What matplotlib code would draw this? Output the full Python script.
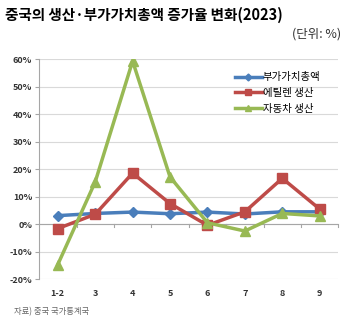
import matplotlib.pyplot as plt
from matplotlib.ticker import FuncFormatter

plt.rcParams['font.family'] = ['Noto Sans CJK KR', 'DejaVu Sans']

months = ['1-2', '3', '4', '5', '6', '7', '8', '9']
value_added = [3.1, 3.9, 4.4, 3.8, 4.4, 3.7, 4.5, 4.5]
ethylene = [-1.6, 3.6, 18.6, 7.5, -0.4, 4.5, 16.7, 5.5]
cars = [-14.7, 15.4, 59.4, 17.2, 0.5, -2.5, 3.9, 3.0]

fig = plt.figure(figsize=(3.46, 3.23), dpi=100)
ax = fig.add_axes([0.113, 0.136, 0.865, 0.68])

x = range(len(months))
ax.plot(x, value_added, color='#4a7ebb', lw=2.5, marker='D', ms=5, label='부가가치총액')
ax.plot(x, ethylene, color='#be4b48', lw=2.5, marker='s', ms=6.5, label='에틸렌 생산')
ax.plot(x, cars, color='#98b954', lw=2.5, marker='^', ms=6.5, label='자동차 생산')

ax.set_xlim(-0.5, len(months) - 0.5)
ax.set_ylim(-20, 60)
ax.set_yticks(range(-20, 61, 10))
ax.yaxis.set_major_formatter(FuncFormatter(lambda v, p: f'{v:.0f}%'))
ax.set_xticks(list(x))
ax.set_xticklabels(months)
ax.grid(axis='y', color='#d9d9d9', lw=0.8)
ax.set_axisbelow(True)

for s in ['top', 'right', 'bottom']:
    ax.spines[s].set_visible(False)
ax.spines['left'].set_color('#a6a6a6')
ax.axhline(0, color='#a6a6a6', lw=0.8, zorder=1)
for b in [i + 0.5 for i in range(len(months))]:
    ax.plot([b, b], [0, -0.9], color='#a6a6a6', lw=0.8, zorder=1, clip_on=False)

ax.tick_params(axis='y', labelsize=6.5, length=3, color='#a6a6a6', pad=2)
ax.tick_params(axis='x', labelsize=6.5, length=0, pad=7)
for t in ax.get_xticklabels() + ax.get_yticklabels():
    t.set_fontweight('bold')
    t.set_color('#333333')

ax.legend(loc='upper right', bbox_to_anchor=(0.965, 0.975), fontsize=7.5, frameon=False,
          handlelength=2.6, handletextpad=0.1, labelspacing=0.55, borderaxespad=0.3,
          markerscale=0.7)

fig.text(0.015, 0.955, '중국의 생산·부가가치총액 증가율 변화(2023)', fontsize=10.5,
         fontweight='bold', va='center')
fig.text(0.985, 0.895, '(단위: %)', fontsize=9, ha='right', va='center', color='#333333')
fig.text(0.04, 0.035, '자료) 중국 국가통계국', fontsize=6, color='#666666', va='center')

fig.savefig('out.png', dpi=100)
